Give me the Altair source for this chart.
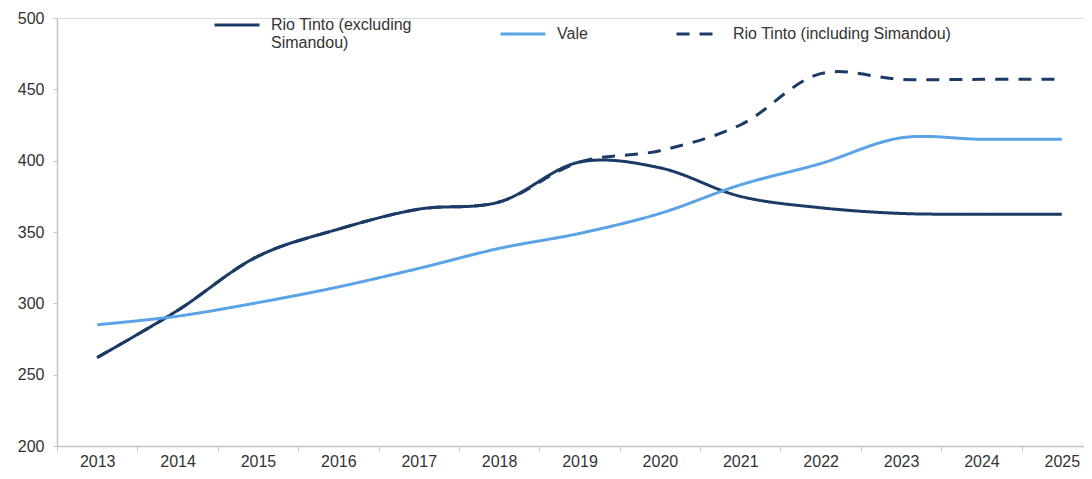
import altair as alt
import pandas as pd

years = [str(y) for y in range(2013, 2026)]
rio_excl = [262, 295, 333, 352, 366, 371, 399, 395, 375, 367, 363, 362.5, 362.5]
vale = [285, 291, 300.5, 311.5, 324.5, 338.5, 349, 363, 383, 398, 416, 415, 415]
rio_incl = [262, 295, 333, 352, 366, 371, 399, 407, 425, 461, 457, 457, 457]

names = ["Rio Tinto (excluding Simandou)", "Vale", "Rio Tinto (including Simandou)"]
colors = ["#1C3A66", "#5BA3E6", "#1C3A66"]
dashes = [[1, 0], [1, 0], [13, 10]]

rows = []
for name, vals in zip(names, [rio_excl, vale, rio_incl]):
    for y, v in zip(years, vals):
        rows.append({"year": y, "value": v, "series": name})
df = pd.DataFrame(rows)

FONT = "Liberation Sans"
TXT = "#333333"
AXC = "#C4C4C4"

x_enc = alt.X(
    "year:O",
    scale=alt.Scale(type="band", paddingInner=0, paddingOuter=0, range=[0, 1045]),
    axis=alt.Axis(
        title=None, labelAngle=0, tickBand="extent", labelFontSize=16,
        labelColor=TXT, labelFont=FONT, domainColor=AXC,
        tickColor=AXC, domainWidth=1.5, tickSize=5, labelPadding=2,
    ),
)
y_enc = alt.Y(
    "value:Q",
    scale=alt.Scale(domain=[200, 500]),
    axis=alt.Axis(
        title=None, grid=False, values=[200, 250, 300, 350, 400, 450, 500],
        labelFontSize=16, labelColor=TXT, labelFont=FONT,
        domainColor=AXC, tickColor=AXC, domainWidth=1.5,
        tickSize=4, labelPadding=9,
    ),
)

legend_kw = dict(
    title=None, orient="none", legendX=156, legendY=-17, direction="horizontal",
    symbolType="stroke", symbolSize=2025, symbolStrokeWidth=3,
    labelFontSize=16, labelFont=FONT, labelColor=TXT, labelLimit=400,
    columnPadding=82, labelOffset=10,
    labelExpr="datum.label == 'Rio Tinto (excluding Simandou)' ? ['Rio Tinto (excluding', 'Simandou)'] : datum.label",
)

color_enc = alt.Color(
    "series:N",
    scale=alt.Scale(domain=names, range=colors),
    legend=alt.Legend(**legend_kw),
)
dash_enc = alt.StrokeDash(
    "series:N",
    scale=alt.Scale(domain=names, range=dashes),
    legend=alt.Legend(**legend_kw),
)

base = alt.Chart(df).mark_line(interpolate="catmull-rom", strokeWidth=3).encode(
    x=x_enc, y=y_enc, color=color_enc, strokeDash=dash_enc
)

dashed = base.transform_filter(alt.datum.series == names[2])
solid = base.transform_filter(alt.datum.series != names[2])

chart = alt.layer(dashed, solid).properties(
    width=1027, height=428,
    autosize=alt.AutoSizeParams(type="none"),
    padding={"left": 49, "top": 10, "right": 0, "bottom": 24},
).configure_view(stroke=None).configure(background="white")

chart.save("out.html", embed_options={"renderer": "svg", "actions": False})
